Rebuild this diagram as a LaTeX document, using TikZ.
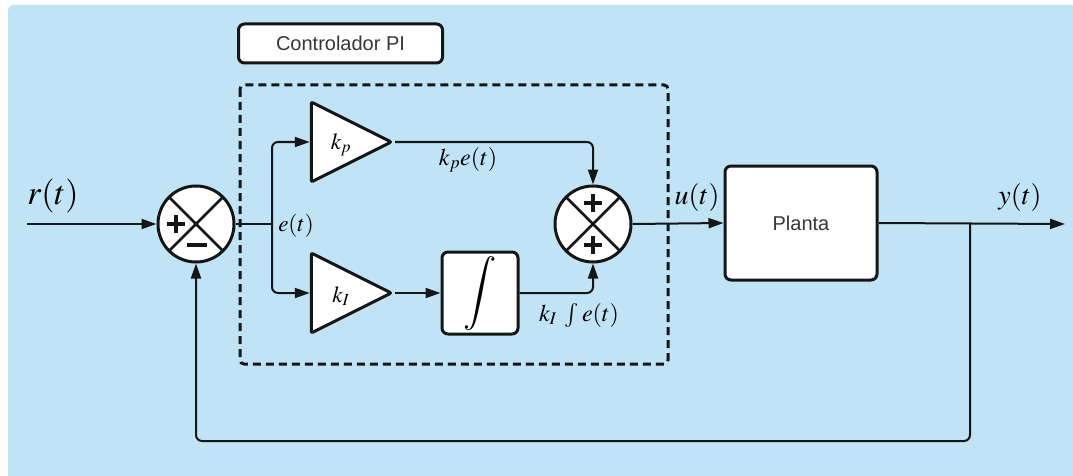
\documentclass[tikz,border=0pt]{standalone}
\usepackage{amsmath}
\usepackage{mathptmx}
\usepackage{fontspec}
\setmainfont{Liberation Sans}
\usepackage{tikz}
\usetikzlibrary{shapes.geometric,arrows.meta}

\definecolor{fondo}{RGB}{192,228,246}
\definecolor{trazo}{RGB}{22,22,22}
\definecolor{gristexto}{RGB}{55,55,55}

\tikzset{
    linea/.style={draw=trazo, line width=2pt},
    flecha/.style={linea, rounded corners=6pt, -{Triangle[length=15pt,width=10pt]}},
    sumador/.style={circle, draw=trazo, fill=white, line width=3pt, minimum size=76pt, inner sep=0pt,
        path picture={\draw[trazo, line width=2.5pt]
            (path picture bounding box.north west) -- (path picture bounding box.south east)
            (path picture bounding box.north east) -- (path picture bounding box.south west);}},
    signo/.style={draw=trazo, line width=3.2pt},
    ganancia/.style={isosceles triangle, isosceles triangle stretches, draw=trazo, fill=white,
        line width=3pt, minimum width=80pt, minimum height=80pt, inner sep=0pt, rounded corners=2pt},
    bloque/.style={rectangle, draw=trazo, fill=white, line width=3pt, rounded corners=6pt, inner sep=0pt},
    textosans/.style={text=gristexto, font=\fontsize{20}{24}\selectfont},
    etiq/.style={font=\fontsize{23}{27}\selectfont},
    etiqgrande/.style={font=\fontsize{28}{32}\selectfont}
}

\begin{document}
\begin{tikzpicture}[x=1pt, y=-1pt]
    % 背景
    \useasboundingbox (0,0) rectangle (1073,476);
    \fill[white] (0,0) rectangle (1073,476);
    \fill[fondo, rounded corners=5pt] (8,5) rectangle (1090,490);

    % 控制器虚线框
    \draw[trazo, line width=3pt, dash pattern=on 8pt off 5pt, rounded corners=4pt]
        (240,85) rectangle (668,364);
    \node[bloque, textosans, minimum width=204pt, minimum height=39pt] (titulo) at (340.5,43.5) {Controlador PI};

    % 方块
    \node[sumador] (s1) at (196,224) {};
    \node[sumador] (s2) at (593,224) {};
    \node[ganancia] (kp) at (336,142) {};
    \node[ganancia] (ki) at (336,293) {};
    \node[bloque, minimum width=76pt, minimum height=82pt] (int) at (480,293)
        {\fontsize{37}{37}\selectfont$\displaystyle\int$};
    \node[bloque, textosans, minimum width=152pt, minimum height=114pt] (planta) at (801,223) {Planta};

    % 符号
    \draw[signo] ([shift={(-29,0)}]s1.center) -- ++(18,0) ([shift={(-20,-9)}]s1.center) -- ++(0,18);
    \draw[signo] ([shift={(-9,21)}]s1.center) -- ++(20,0);
    \draw[signo] ([shift={(-9,-21)}]s2.center) -- ++(18,0) ([shift={(0,-30)}]s2.center) -- ++(0,18);
    \draw[signo] ([shift={(-9,21)}]s2.center) -- ++(18,0) ([shift={(0,12)}]s2.center) -- ++(0,18);

    % 连线
    \coordinate (entrada) at (27,224);
    \coordinate (rama) at (272,224);
    \coordinate (toma) at (970,224);
    \coordinate (salida) at (1065,224);
    \coordinate (abajo) at (970,441);
    \draw[flecha] (entrada) -- (s1);
    \draw[linea] (s1.east) -- (rama);
    \draw[flecha] (rama) |- (kp.west);
    \draw[flecha] (rama) |- (ki.west);
    \draw[flecha] (kp.east) -| (s2.north);
    \draw[flecha] (ki.east) -- (int.west);
    \draw[flecha] (int.east) -| (s2.south);
    \draw[flecha] (s2.east) -- (planta.west);
    \draw[flecha] (planta.east) -- (salida);
    \draw[flecha] (toma) -- (abajo) -| (s1.south);

    % 标记
    \node[etiq] (kplbl) at (341,145) {$k_p$};
    \node[etiq] (kilbl) at (341,296) {$k_I$};
    \node[etiqgrande, font=\fontsize{34}{38}\selectfont] (rlbl) at (53,196) {$r(t)$};
    \node[etiq] (elbl) at (296,226) {$e(t)$};
    \node[etiq, font=\fontsize{24}{28}\selectfont] (kpelbl) at (468,160) {$k_p e(t)$};
    \node[etiq, font=\fontsize{24}{28}\selectfont] (kielbl) at (579,315) {$k_I\;\int e(t)$};
    \node[etiqgrande] (ulbl) at (697,197) {$u(t)$};
    \node[etiqgrande] (ylbl) at (1020,197) {$y(t)$};
\end{tikzpicture}
\end{document}
